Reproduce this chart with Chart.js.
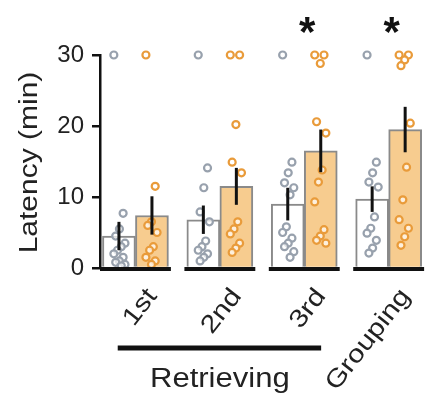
<!DOCTYPE html>
<html>
<head>
<meta charset="utf-8">
<script src="https://cdn.jsdelivr.net/npm/chart.js@4.4.1/dist/chart.umd.min.js"></script>
<style>
  html, body { margin: 0; background: #fff; }
  #wrap { width: 432px; height: 395px; position: relative; }
</style>
</head>
<body>
<div id="wrap"><canvas id="latency-chart"></canvas></div>
<script>
const categories = ['1st', '2nd', '3rd', 'Grouping'];
const ctrlMean = [4.5, 6.8, 9.0, 9.7];
const ctrlErr = [2.0, 2.0, 2.3, 1.8];
const testMean = [7.4, 11.5, 16.5, 19.5];
const testErr = [2.7, 2.6, 3.0, 3.2];
const ctrlPoints = [
  [30, 7.7, 5.5, 4.5, 3.5, 3.0, 2.5, 2.0, 1.5, 1.0, 0.8, 0.5, 0.3],
  [30, 14.1, 11.3, 7.9, 6.5, 3.8, 3.0, 2.5, 2.0, 1.5, 1.0],
  [30, 14.9, 13.4, 12.0, 11.3, 10.3, 5.8, 5.0, 4.2, 3.5, 3.0, 2.3, 1.5],
  [30, 14.9, 13.4, 12.1, 11.4, 7.2, 5.6, 4.9, 3.9, 2.8, 2.1],
];
const testPoints = [
  [30, 11.5, 6.5, 6.0, 5.0, 3.0, 2.5, 1.5, 1.0, 0.5],
  [30, 30, 20.2, 14.9, 13.4, 6.5, 5.5, 4.8, 3.5, 2.8, 2.2],
  [30, 30, 28.8, 20.6, 19.0, 13.8, 12.1, 9.3, 5.4, 4.5, 3.9, 3.5],
  [30, 30, 29.3, 28.5, 20.4, 14.2, 9.6, 6.8, 5.6, 4.4, 3.2],
];
const yTicks = [0, 10, 20, 30];
const yTitle = 'Latency (min)';
const sigGroups = [2, 3];
const retrievingLabel = 'Retrieving';

const FONT = "'Liberation Sans', Arial, sans-serif";
const GRAY = '#98a1ad';
const ORANGE = '#e99b3a';
const BAR_OFF = 0.19;

const jitter = i => (((i * 5) % 7) - 3) * 0.022;

const toPoints = (groups, side) => groups.flatMap((vals, g) =>
  vals.map((v, i) => ({ x: g + side * BAR_OFF + jitter(i), y: v })));

// stretched text, the source font runs wider than Arial
function wideText(ctx, text, x, y, angle, stretch, align) {
  ctx.save();
  ctx.translate(x, y);
  ctx.rotate(angle);
  ctx.scale(stretch, 1);
  ctx.textAlign = align;
  ctx.fillText(text, 0, 0);
  ctx.restore();
}

const extras = {
  id: 'extras',
  afterDatasetsDraw(chart) {
    const { ctx, scales: { x, y }, chartArea } = chart;
    ctx.save();
    // error bars
    [[0, ctrlMean, ctrlErr], [1, testMean, testErr]].forEach(([di, mean, err]) => {
      chart.getDatasetMeta(di).data.forEach((bar, i) => {
        ctx.strokeStyle = '#111';
        ctx.lineWidth = 3;
        ctx.beginPath();
        ctx.moveTo(bar.x, y.getPixelForValue(mean[i] - err[i]));
        ctx.lineTo(bar.x, y.getPixelForValue(mean[i] + err[i]));
        ctx.stroke();
      });
    });
    // x axis, one piece per group
    ctx.lineWidth = 4;
    categories.forEach((c, i) => {
      const l = i === 0 ? chartArea.left : x.getPixelForValue(i - 0.42);
      ctx.beginPath();
      ctx.moveTo(l, chartArea.bottom + 1);
      ctx.lineTo(x.getPixelForValue(i + 0.42), chartArea.bottom + 1);
      ctx.stroke();
    });
    ctx.fillStyle = '#222';
    // category labels
    ctx.font = '25px ' + FONT;
    ctx.textBaseline = 'middle';
    categories.forEach((c, i) => {
      wideText(ctx, c, x.getPixelForValue(i) + 17, chartArea.bottom + 24, -52 * Math.PI / 180, 1.18, 'right');
    });
    // y title
    ctx.font = '25px ' + FONT;
    wideText(ctx, yTitle, 30, (chartArea.top + chartArea.bottom) / 2 + 1, -Math.PI / 2, 1.2, 'center');
    // significance stars
    ctx.fillStyle = '#111';
    ctx.font = 'bold 42px ' + FONT;
    ctx.textAlign = 'center';
    ctx.textBaseline = 'alphabetic';
    sigGroups.forEach(g => ctx.fillText('*', x.getPixelForValue(g) + 3, 46));
    // retrieving bracket
    ctx.lineWidth = 5;
    ctx.beginPath();
    ctx.moveTo(x.getPixelForValue(-0.21), 348);
    ctx.lineTo(x.getPixelForValue(2.2), 348);
    ctx.stroke();
    ctx.fillStyle = '#222';
    ctx.font = '27px ' + FONT;
    wideText(ctx, retrievingLabel, x.getPixelForValue(1), 387, 0, 1.15, 'center');
    ctx.restore();
  },
};

new Chart(document.getElementById('latency-chart'), {
  type: 'bar',
  data: {
    datasets: [
      {
        type: 'bar',
        data: ctrlMean.map((v, i) => ({ x: i, y: v })),
        backgroundColor: '#ffffff',
        borderColor: '#8a8a8a',
        borderWidth: 2,
        barThickness: 33,
        order: 3,
      },
      {
        type: 'bar',
        data: testMean.map((v, i) => ({ x: i, y: v })),
        backgroundColor: '#f7cc8f',
        borderColor: '#8a8a8a',
        borderWidth: 2,
        barThickness: 33,
        order: 3,
      },
      {
        type: 'scatter',
        data: toPoints(ctrlPoints, -1),
        borderColor: GRAY,
        backgroundColor: 'rgba(255,255,255,0.7)',
        pointRadius: 3.5,
        borderWidth: 2.2,
        clip: false,
        order: 1,
      },
      {
        type: 'scatter',
        data: toPoints(testPoints, 1),
        borderColor: ORANGE,
        backgroundColor: 'rgba(255,255,255,0.7)',
        pointRadius: 3.5,
        borderWidth: 2.2,
        clip: false,
        order: 1,
      },
    ],
  },
  options: {
    responsive: true,
    maintainAspectRatio: false,
    animation: false,
    layout: { padding: { top: 55, right: 0, left: 0, bottom: 0 } },
    plugins: { legend: { display: false }, tooltip: { enabled: false } },
    scales: {
      x: {
        type: 'linear',
        offset: false,
        min: -0.42,
        max: 3.44,
        grid: { display: false, offset: false },
        border: { display: false },
        ticks: { display: false },
        afterFit: s => { s.height = 127; },
      },
      y: {
        min: 0,
        max: 30,
        afterFit: s => { s.width = 100; },
        afterBuildTicks: s => { s.ticks = yTicks.map(v => ({ value: v })); },
        grid: { drawOnChartArea: false, tickLength: 8, lineWidth: 2.5, color: '#111' },
        border: { color: '#111', width: 2.5 },
        ticks: { color: '#222', padding: 8, font: { family: FONT, size: 24 } },
      },
    },
  },
  plugins: [extras],
});
</script>
</body>
</html>
